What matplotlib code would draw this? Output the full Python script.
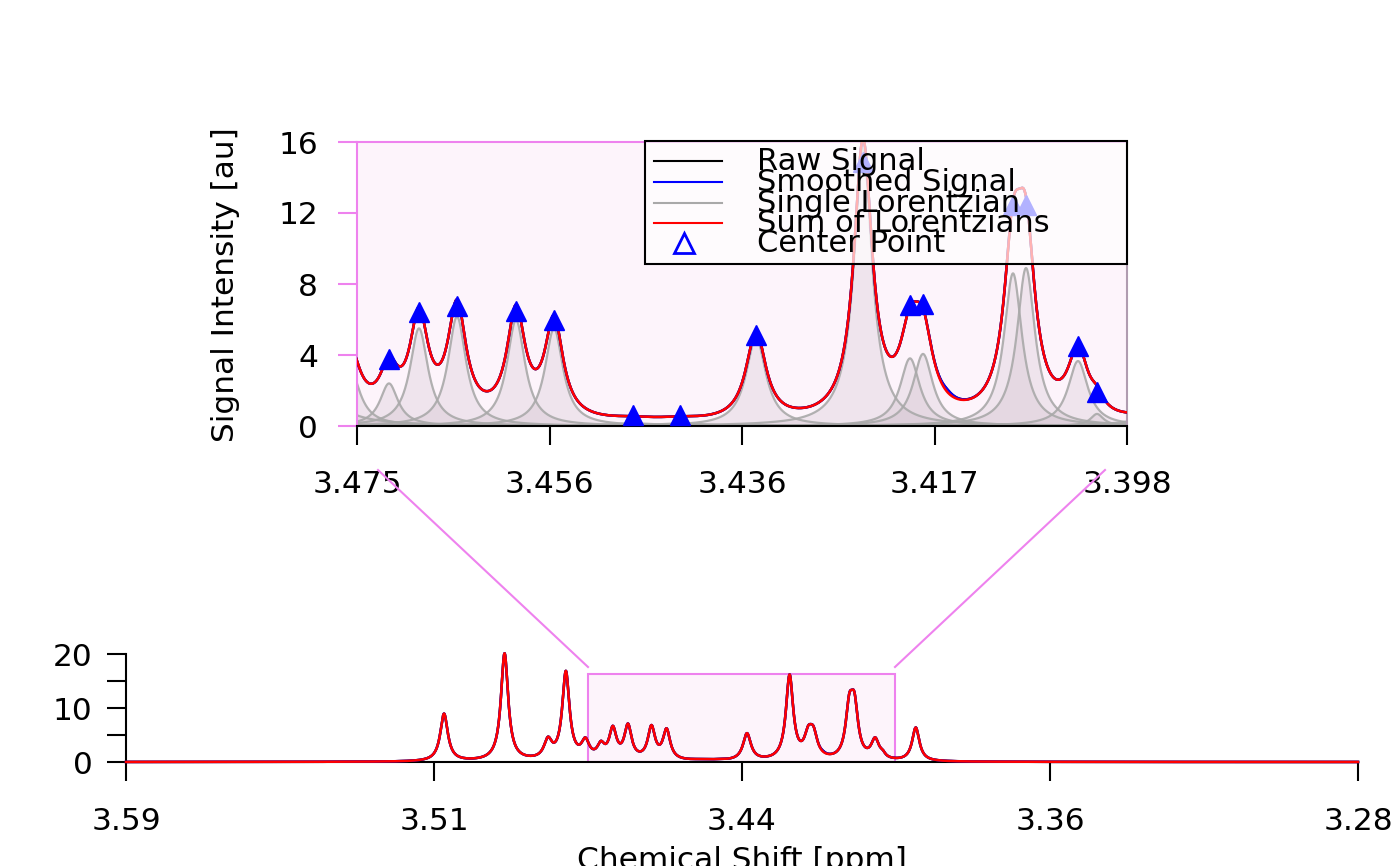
import numpy as np
import matplotlib.pyplot as plt
from matplotlib.patches import Rectangle
from matplotlib.lines import Line2D

# peaks: position [ppm], height [au], half width [ppm]
peak_ppm = [3.5115, 3.4963, 3.4854, 3.4809, 3.4760, 3.4721, 3.4691, 3.4653,
            3.4594, 3.4556, 3.4477, 3.4430, 3.4354, 3.4247, 3.4200, 3.4187,
            3.4097, 3.4084, 3.4032, 3.4013, 3.3930]
peak_height = [8.8, 19.9, 3.4, 16.2, 3.2, 2.4, 5.5, 6.16,
               5.97, 5.5, 0.15, 0.15, 5.0, 15.6, 3.81, 4.06,
               8.6, 8.9, 3.66, 0.68, 6.2]
peak_hwhm = [0.00115, 0.0011, 0.0012, 0.0011, 0.0012, 0.0011, 0.0011, 0.0011,
             0.0011, 0.0011, 0.003, 0.003, 0.0012, 0.0011, 0.0012, 0.0012,
             0.0011, 0.0011, 0.0012, 0.0008, 0.0011]

# center points (triangles) shown in the zoomed panel
center_ppm = [3.4721, 3.4691, 3.4653, 3.4594, 3.4556, 3.4477, 3.4430, 3.4354,
              3.4247, 3.4200, 3.4187, 3.4097, 3.4084, 3.4032, 3.4013]
center_val = [3.8, 6.44, 6.74, 6.5, 5.97, 0.6, 0.6, 5.13,
              14.9, 6.8, 6.9, 12.45, 12.45, 4.52, 1.93]

# small bump only present in the smoothed signal
smooth_ppm = [3.4163]
smooth_height = [0.15]
smooth_hwhm = [0.0008]

top_xlim = (3.4753, 3.3983)
full_xlim = (3.5914, 3.2819)
top_labels = ["3.475", "3.456", "3.436", "3.417", "3.398"]
full_labels = ["3.59", "3.51", "3.44", "3.36", "3.28"]

VIOLET = "#EE82EE"
PINK = "#FDF4FB"
FS = 22.5


def lorentz(x, x0, h, w):
    return h * w**2 / (w**2 + (x - x0)**2)


x = np.linspace(full_xlim[0], full_xlim[1], 8000)
singles = [lorentz(x, p, h, w) for p, h, w in zip(peak_ppm, peak_height, peak_hwhm)]
lsum = np.sum(singles, axis=0)
smooth = lsum.copy()
for p, h, w in zip(smooth_ppm, smooth_height, smooth_hwhm):
    smooth += lorentz(x, p, h, w)
raw = smooth

plt.rcParams["font.family"] = "DejaVu Sans"
fig = plt.figure(figsize=(14, 8.66), dpi=100)

# ---- zoomed panel ----
ax = fig.add_axes([357 / 1400, 1 - 426 / 866, 770 / 1400, 284 / 866])
ax.set_facecolor(PINK)
for s in singles:
    ax.fill_between(x, 0, s, color="#C8B8C4", alpha=0.25, lw=0, zorder=1)
    ax.plot(x, s, color="#A9A9A9", lw=1.6, alpha=0.9, zorder=2)
ax.plot(x, raw, color="black", lw=1.8, zorder=3)
ax.plot(x, smooth, color="blue", lw=1.8, zorder=4)
ax.plot(x, lsum, color="red", lw=1.8, zorder=5)
ax.plot(center_ppm, center_val, ls="none", marker="^", ms=14.5,
        color="blue", zorder=6, clip_on=False)
ax.set_xlim(top_xlim)
ax.set_ylim(0, 16)
ax.set_xticks(np.linspace(top_xlim[0], top_xlim[1], 5))
ax.set_xticklabels(top_labels)
ax.set_yticks([0, 4, 8, 12, 16])
ax.tick_params(axis="x", length=14, width=1.5, pad=18, labelsize=FS)
ax.tick_params(axis="y", length=14, width=1.5, pad=14, labelsize=FS, color=VIOLET)
ax.spines["left"].set_color(VIOLET)
ax.spines["top"].set_color(VIOLET)
ax.spines["right"].set_color("#B09CB0")
for sp in ax.spines.values():
    sp.set_linewidth(1.5)

# legend drawn by hand, semi transparent like the original
ax.add_patch(Rectangle((0.374, 0.570), 0.626, 0.4335, transform=ax.transAxes,
                       facecolor=(1, 1, 1, 0.7), edgecolor="black", lw=1.5,
                       zorder=7, clip_on=False))
leg_labels = ["Raw Signal", "Smoothed Signal", "Single Lorentzian",
              "Sum of Lorentzians", "Center Point"]
leg_colors = ["black", "blue", "#A9A9A9", "red", "blue"]
leg_y = [0.933, 0.859, 0.785, 0.714, 0.644]
for lab, col, yy in zip(leg_labels, leg_colors, leg_y):
    if lab == "Center Point":
        ax.plot([0.4247], [yy], transform=ax.transAxes, marker="^", ms=14,
                mfc="none", mec=col, mew=2, ls="none", zorder=8, clip_on=False)
    else:
        ax.plot([0.3857, 0.474], [yy, yy], transform=ax.transAxes, color=col,
                lw=1.5, zorder=8, clip_on=False)
    ax.text(0.519, yy, lab, transform=ax.transAxes, fontsize=22,
            va="center", ha="left", zorder=8)

fig.text(225 / 1400, 1 - 285 / 866, "Signal Intensity [au]", rotation=90,
         fontsize=FS, ha="center", va="center")

# ---- full spectrum ----
bx = fig.add_axes([126 / 1400, 1 - 762 / 866, 1232 / 1400, 108 / 866])
bx.patch.set_visible(False)
bx.add_patch(Rectangle((top_xlim[0], 0), top_xlim[1] - top_xlim[0], 16.3,
                       facecolor=PINK, edgecolor=VIOLET, lw=1.5, zorder=1))
bx.plot(x, raw, color="black", lw=1.8, zorder=3, clip_on=False)
bx.plot(x, smooth, color="blue", lw=1.8, zorder=4, clip_on=False)
bx.plot(x, lsum, color="red", lw=1.8, zorder=5, clip_on=False)
bx.set_xlim(full_xlim)
bx.set_ylim(0, 20)
bx.set_xticks(np.linspace(full_xlim[0], full_xlim[1], 5))
bx.set_xticklabels(full_labels)
bx.set_yticks([0, 5, 10, 15, 20])
bx.set_yticklabels(["0", "", "10", "", "20"])
bx.tick_params(axis="x", length=14, width=1.5, pad=18.5, labelsize=FS)
bx.tick_params(axis="y", length=14, width=1.5, pad=10, labelsize=FS)
bx.spines["top"].set_visible(False)
bx.spines["right"].set_visible(False)
for sp in ["left", "bottom"]:
    bx.spines[sp].set_linewidth(1.5)

fig.text(742 / 1400, -0.004, "Chemical Shift [ppm]", fontsize=FS,
         ha="center", va="baseline")

# connector lines between the panels
for (x0, y0), (x1, y1) in [((378, 470), (588, 667)), ((1105, 470), (895, 667))]:
    fig.add_artist(Line2D([x0 / 1400, x1 / 1400], [1 - y0 / 866, 1 - y1 / 866],
                          color=VIOLET, lw=1.5, transform=fig.transFigure))

fig.savefig("out.png", dpi=100)
